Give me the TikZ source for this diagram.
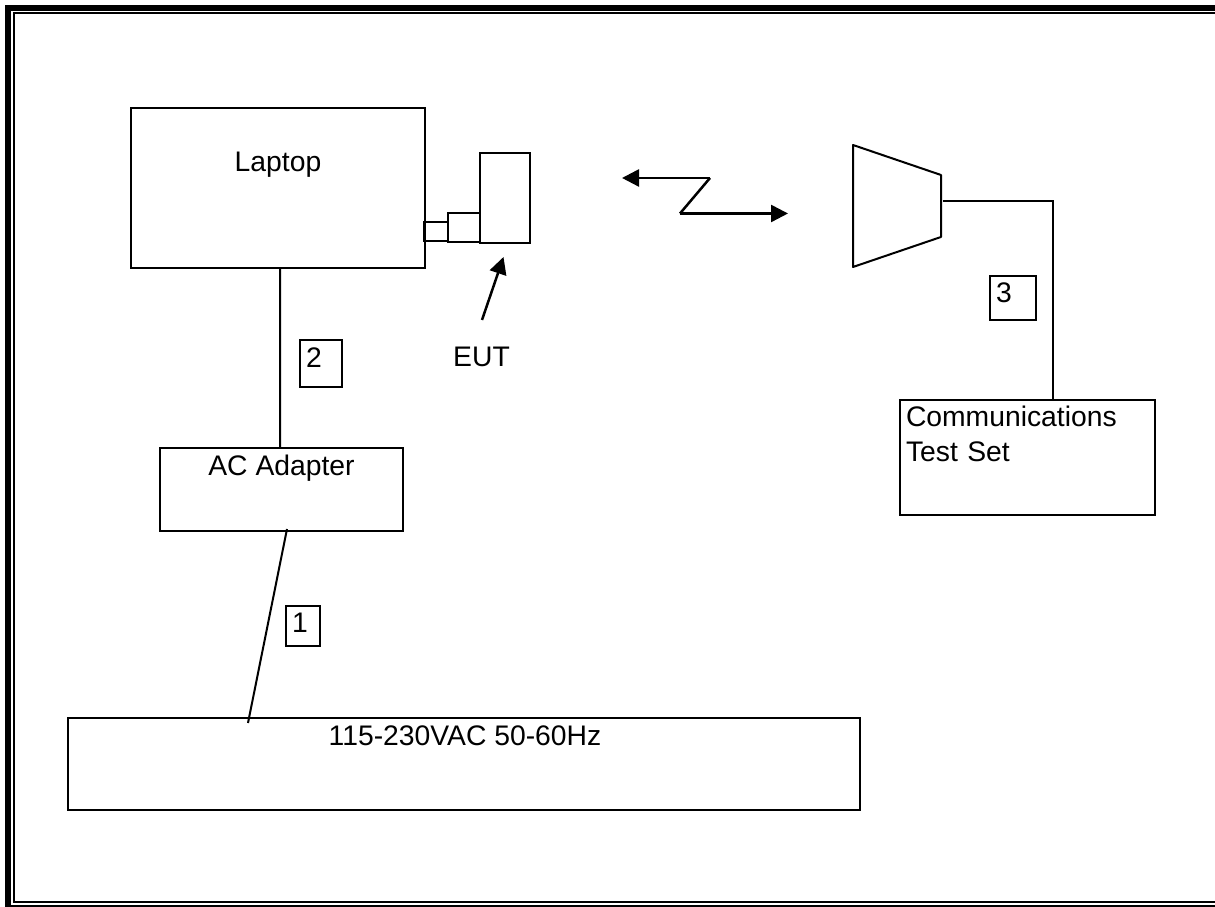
\documentclass[tikz,border=0pt]{standalone}
\usepackage{fontspec}
\setmainfont{Liberation Sans}
\usetikzlibrary{
    positioning,
    arrows.meta
}

\begin{document}
\begin{tikzpicture}[
    font=\fontsize{16.1}{19.9}\selectfont,
    box/.style={
        draw=black,
        line width=0.04cm,
        inner xsep=0pt,
        inner ysep=0pt,
        outer sep=0pt,
        align=center
    },
    tag/.style={
        box,
        inner xsep=0.12cm,
        align=left
    },
    wire/.style={draw=black, line width=0.04cm},
    arrow/.style={
        line width=0.05cm,
        -{Triangle[length=0.34cm, width=0.34cm]}
    }
]

% Set bounding box to the size of the page
\useasboundingbox (0,0) rectangle (24.3,18.14);

% ================= FRAME =================
\draw[line width=0.115cm] (24.5,17.985) -- (0.16,17.985) -- (0.16,-0.0175) -- (24.5,-0.0175);
\draw[line width=0.04cm] (24.5,17.88) -- (0.28,17.88) -- (0.28,0.10) -- (24.5,0.10);

% ================= LAPTOP SIDE =================
\node[box, minimum width=5.88cm, text height=1.28cm, text depth=1.92cm] (laptop) at (5.56,14.38) {Laptop};

\node[box, minimum width=0.48cm, minimum height=0.38cm] (stub) at (8.72,13.51) {};
\node[box, minimum width=0.64cm, minimum height=0.58cm] (plug) at (9.28,13.59) {};
\node[box, minimum width=1cm, minimum height=1.8cm] (dongle) at (10.1,14.18) {};

\node[anchor=base] (eut) at (9.63,10.8) {EUT};
\coordinate (eutfrom) at (9.64,11.74);
\coordinate (eutto) at (10.07,13);
\draw[arrow] (eutfrom) -- (eutto);

% ================= POWER =================
\node[box, minimum width=4.86cm, text height=0.56cm, text depth=1.1cm] (adapter) at (5.63,8.35) {AC Adapter};

\node[box, minimum width=15.84cm, text height=0.56cm, text depth=1.28cm] (mains) at (9.28,2.86)
{\hspace{0.04cm}115-230VAC 50-60Hz};

% ---- cables
\draw[wire] ([xshift=0.04cm]laptop.south) -- ([xshift=-0.03cm]adapter.north);
\draw[wire] ([xshift=0.11cm,yshift=0.04cm]adapter.south) -- ([xshift=-4.32cm,yshift=-0.1cm]mains.north);

\node[tag, text width=0.6cm, text height=0.56cm, text depth=0.38cm] (tagtwo) at (6.42,10.87) {2};
\node[tag, text width=0.44cm, text height=0.54cm, text depth=0.26cm] (tagone) at (6.06,5.62) {1};

% ================= RADIO LINK =================
\coordinate (linkleft) at (12.44,14.58);
\coordinate (linktop) at (14.2,14.58);
\coordinate (linklow) at (13.6,13.87);
\coordinate (linkright) at (15.76,13.87);
\draw[arrow] (linktop) -- (linkleft);
\draw[line width=0.05cm] (linktop) -- (linklow);
\draw[arrow] (linklow) -- (linkright);

% ================= TEST SET SIDE =================
\draw[wire, line join=round] (17.06,15.24) -- (18.82,14.64) -- (18.82,13.4) -- (17.06,12.8) -- cycle;
\coordinate (hornout) at (18.86,14.12);

\node[tag, text width=4.86cm, text height=0.54cm, text depth=1.76cm] (testset) at (20.55,8.99)
{Communications\\Test Set};

\draw[wire] (hornout) -| ([xshift=0.51cm]testset.north);

\node[tag, text width=0.68cm, text height=0.54cm, text depth=0.34cm] (tagthree) at (20.26,12.18) {3};

\end{tikzpicture}
\end{document}
